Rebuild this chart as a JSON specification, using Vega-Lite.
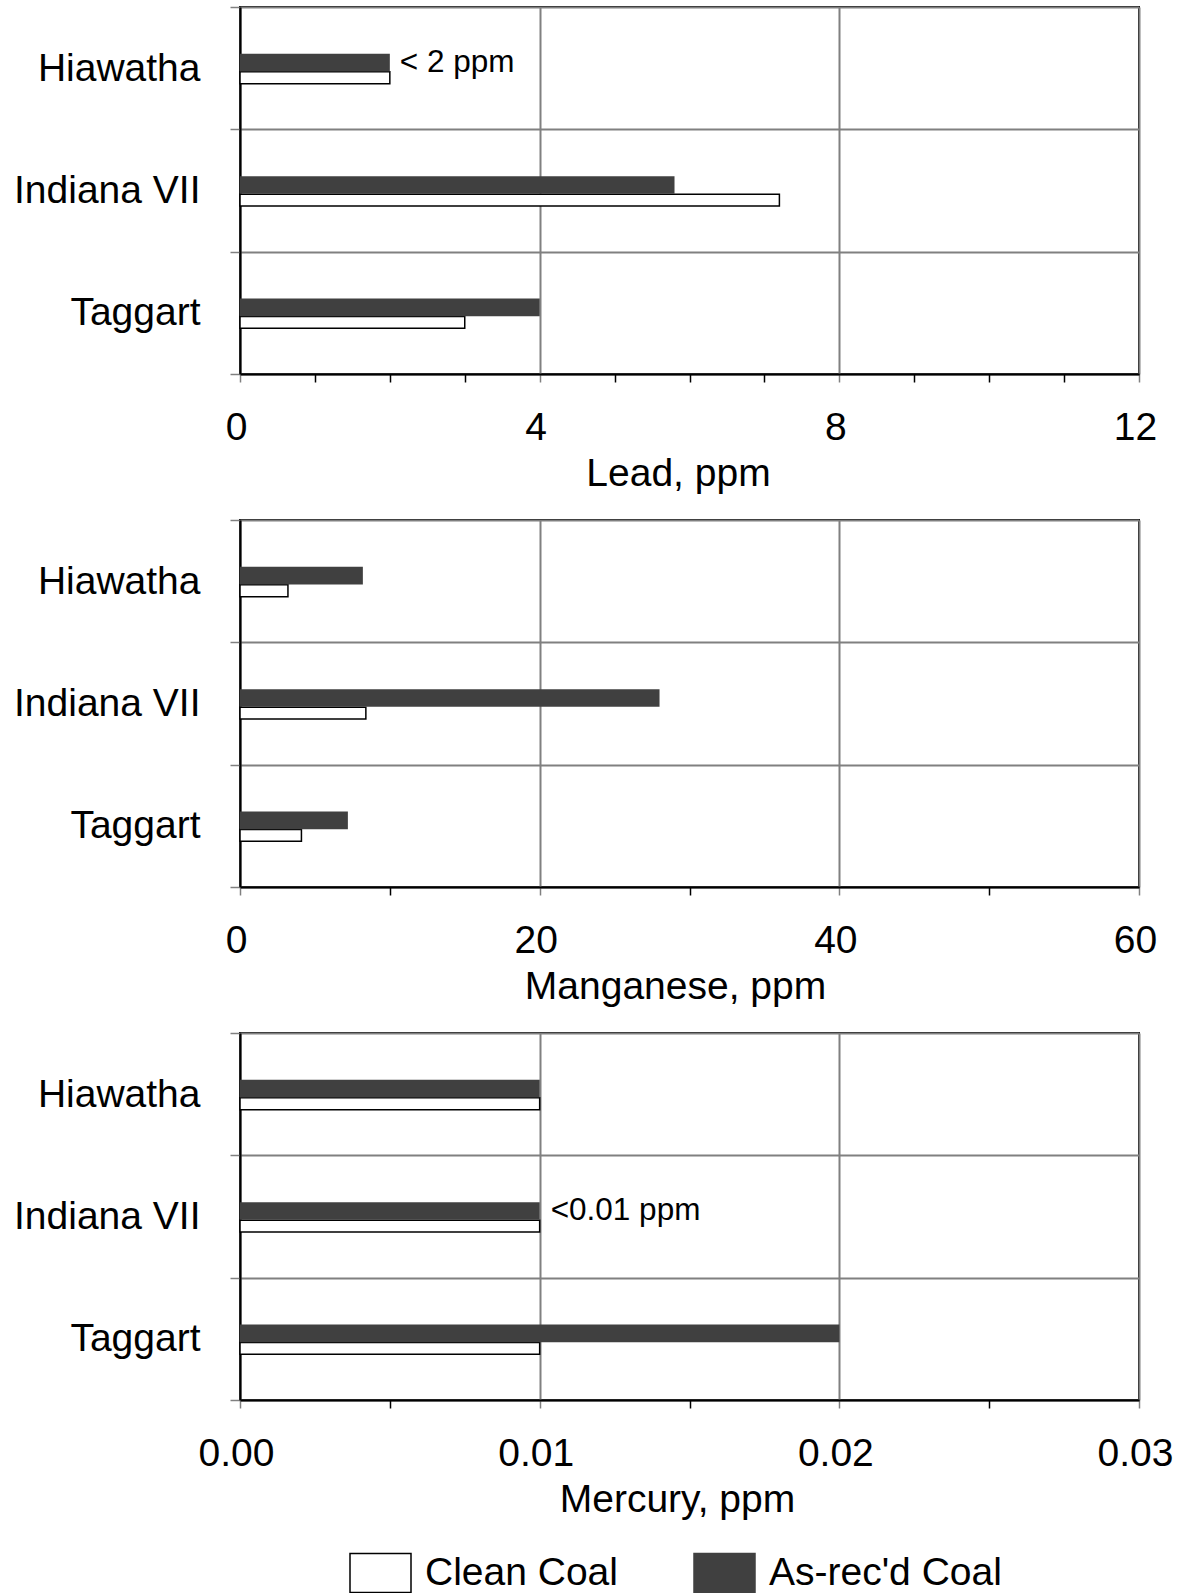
{
  "$schema": "https://vega.github.io/schema/vega-lite/v6.json",
  "background": "white",
  "padding": {"left": 12, "top": -13, "right": 5, "bottom": 0},
  "spacing": 146,
  "bounds": "flush",
  "data": {
    "values": [
      {"element": "Lead", "mine": "Hiawatha", "series": "As-rec'd Coal", "value": 2.0, "note": "< 2 ppm"},
      {"element": "Lead", "mine": "Hiawatha", "series": "Clean Coal", "value": 2.0},
      {"element": "Lead", "mine": "Indiana VII", "series": "As-rec'd Coal", "value": 5.8},
      {"element": "Lead", "mine": "Indiana VII", "series": "Clean Coal", "value": 7.2},
      {"element": "Lead", "mine": "Taggart", "series": "As-rec'd Coal", "value": 4.0},
      {"element": "Lead", "mine": "Taggart", "series": "Clean Coal", "value": 3.0},
      {"element": "Manganese", "mine": "Hiawatha", "series": "As-rec'd Coal", "value": 8.2},
      {"element": "Manganese", "mine": "Hiawatha", "series": "Clean Coal", "value": 3.2},
      {"element": "Manganese", "mine": "Indiana VII", "series": "As-rec'd Coal", "value": 28.0},
      {"element": "Manganese", "mine": "Indiana VII", "series": "Clean Coal", "value": 8.4},
      {"element": "Manganese", "mine": "Taggart", "series": "As-rec'd Coal", "value": 7.2},
      {"element": "Manganese", "mine": "Taggart", "series": "Clean Coal", "value": 4.1},
      {"element": "Mercury", "mine": "Hiawatha", "series": "As-rec'd Coal", "value": 0.01},
      {"element": "Mercury", "mine": "Hiawatha", "series": "Clean Coal", "value": 0.01},
      {"element": "Mercury", "mine": "Indiana VII", "series": "As-rec'd Coal", "value": 0.01, "note": "<0.01 ppm"},
      {"element": "Mercury", "mine": "Indiana VII", "series": "Clean Coal", "value": 0.01},
      {"element": "Mercury", "mine": "Taggart", "series": "As-rec'd Coal", "value": 0.02},
      {"element": "Mercury", "mine": "Taggart", "series": "Clean Coal", "value": 0.01}
    ]
  },
  "vconcat": [
    {
      "width": 899, "height": 367,
      "transform": [{"filter": {"field": "element", "equal": "Lead"}}],
      "encoding": {
        "y": {"field": "mine", "type": "nominal", "title": null,
              "scale": {"domain": ["Hiawatha", "Indiana VII", "Taggart"], "paddingInner": 0, "paddingOuter": 0},
              "axis": {"tickBand": "extent", "grid": true}},
        "x": {"field": "value", "type": "quantitative", "title": "Lead, ppm",
              "scale": {"domain": [0, 12], "nice": false},
              "axis": {"values": [0,1,2,3,4,5,6,7,8,9,10,11,12],
                       "labelExpr": "datum.value % 4 === 0 ? datum.label : ''",
                       "gridOpacity": {"condition": {"test": "datum.value % 4 === 0", "value": 1}, "value": 0},
                       "tickColor": {"condition": {"test": "datum.value % 4 === 0", "value": "#808080"}, "value": "black"},
                       "titleX": 438}},
        "fill": {"field": "series", "type": "nominal", "scale": {"domain": ["Clean Coal", "As-rec'd Coal"], "range": ["white", "#404040"]}, "legend": {"title": null}},
        "stroke": {"field": "series", "type": "nominal", "scale": {"domain": ["Clean Coal", "As-rec'd Coal"], "range": ["black", "#404040"]}, "legend": {"title": null}}
      },
      "layer": [
        {"transform": [{"filter": {"field": "series", "equal": "Clean Coal"}}],
         "mark": {"type": "bar", "height": 11.8, "yOffset": 9.6, "strokeWidth": 1.5}},
        {"transform": [{"filter": {"field": "series", "equal": "As-rec'd Coal"}}],
         "mark": {"type": "bar", "height": 17.7, "yOffset": -5.5, "strokeWidth": 0}},
        {"transform": [{"filter": "isValid(datum.note)"}],
         "mark": {"type": "text", "align": "left", "baseline": "middle", "dx": 10, "yOffset": -5.5, "fontSize": 31.5, "font": "Liberation Sans", "color": "black"},
         "encoding": {"text": {"field": "note", "type": "nominal"}, "fill": {"value": "black"}, "stroke": {"value": null}}}
      ]
    },
    {
      "width": 899, "height": 367,
      "transform": [{"filter": {"field": "element", "equal": "Manganese"}}],
      "encoding": {
        "y": {"field": "mine", "type": "nominal", "title": null,
              "scale": {"domain": ["Hiawatha", "Indiana VII", "Taggart"], "paddingInner": 0, "paddingOuter": 0},
              "axis": {"tickBand": "extent", "grid": true}},
        "x": {"field": "value", "type": "quantitative", "title": "Manganese, ppm",
              "scale": {"domain": [0, 60], "nice": false},
              "axis": {"values": [0,10,20,30,40,50,60],
                       "labelExpr": "datum.value % 20 === 0 ? datum.label : ''",
                       "gridOpacity": {"condition": {"test": "datum.value % 20 === 0", "value": 1}, "value": 0},
                       "tickColor": {"condition": {"test": "datum.value % 20 === 0", "value": "#808080"}, "value": "black"},
                       "titleX": 435}},
        "fill": {"field": "series", "type": "nominal", "scale": {"domain": ["Clean Coal", "As-rec'd Coal"], "range": ["white", "#404040"]}, "legend": {"title": null}},
        "stroke": {"field": "series", "type": "nominal", "scale": {"domain": ["Clean Coal", "As-rec'd Coal"], "range": ["black", "#404040"]}, "legend": {"title": null}}
      },
      "layer": [
        {"transform": [{"filter": {"field": "series", "equal": "Clean Coal"}}],
         "mark": {"type": "bar", "height": 11.8, "yOffset": 9.6, "strokeWidth": 1.5}},
        {"transform": [{"filter": {"field": "series", "equal": "As-rec'd Coal"}}],
         "mark": {"type": "bar", "height": 17.7, "yOffset": -5.5, "strokeWidth": 0}}
      ]
    },
    {
      "width": 899, "height": 367,
      "transform": [{"filter": {"field": "element", "equal": "Mercury"}}],
      "encoding": {
        "y": {"field": "mine", "type": "nominal", "title": null,
              "scale": {"domain": ["Hiawatha", "Indiana VII", "Taggart"], "paddingInner": 0, "paddingOuter": 0},
              "axis": {"tickBand": "extent", "grid": true}},
        "x": {"field": "value", "type": "quantitative", "title": "Mercury, ppm",
              "scale": {"domain": [0, 0.03], "nice": false},
              "axis": {"values": [0,0.005,0.01,0.015,0.02,0.025,0.03],
                       "labelExpr": "round(datum.value*1000) % 10 === 0 ? format(datum.value, '.2f') : ''",
                       "gridOpacity": {"condition": {"test": "round(datum.value*1000) % 10 === 0", "value": 1}, "value": 0},
                       "tickColor": {"condition": {"test": "round(datum.value*1000) % 10 === 0", "value": "#808080"}, "value": "black"},
                       "titleX": 437}},
        "fill": {"field": "series", "type": "nominal", "scale": {"domain": ["Clean Coal", "As-rec'd Coal"], "range": ["white", "#404040"]}, "legend": {"title": null}},
        "stroke": {"field": "series", "type": "nominal", "scale": {"domain": ["Clean Coal", "As-rec'd Coal"], "range": ["black", "#404040"]}, "legend": {"title": null}}
      },
      "layer": [
        {"transform": [{"filter": {"field": "series", "equal": "Clean Coal"}}],
         "mark": {"type": "bar", "height": 11.8, "yOffset": 9.6, "strokeWidth": 1.5}},
        {"transform": [{"filter": {"field": "series", "equal": "As-rec'd Coal"}}],
         "mark": {"type": "bar", "height": 17.7, "yOffset": -5.5, "strokeWidth": 0}},
        {"transform": [{"filter": "isValid(datum.note)"}],
         "mark": {"type": "text", "align": "left", "baseline": "middle", "dx": 11, "yOffset": -5.5, "fontSize": 31.5, "font": "Liberation Sans", "color": "black"},
         "encoding": {"text": {"field": "note", "type": "nominal"}, "fill": {"value": "black"}, "stroke": {"value": null}}}
      ]
    }
  ],
  "config": {
    "font": "Liberation Sans",
    "view": {"stroke": "black", "strokeWidth": 2},
    "axis": {"labelFont": "Liberation Sans", "titleFont": "Liberation Sans", "labelFontSize": 39, "titleFontSize": 39,
             "titleFontWeight": "normal", "labelColor": "black", "titleColor": "black",
             "domainColor": "black", "domainWidth": 2, "gridColor": "#808080", "gridWidth": 2, "tickWidth": 1.5},
    "axisY": {"tickColor": "#808080", "tickSize": 10, "labelPadding": 30, "labelLimit": 400},
    "axisX": {"tickSize": 8, "labelPadding": 26, "titlePadding": 7, "labelFlush": false, "labelOverlap": false, "labelOffset": -4},
    "legend": {"orient": "none", "legendX": 109, "legendY": 1534, "direction": "horizontal",
               "labelFont": "Liberation Sans", "labelFontSize": 39, "labelColor": "black", "labelLimit": 400,
               "symbolType": "M-1,-0.64L1,-0.64L1,0.64L-1,0.64Z", "symbolSize": 3721, "symbolStrokeWidth": 1.5,
               "labelOffset": 13, "columnPadding": 73, "padding": 0, "symbolOpacity": 1}
  }
}
